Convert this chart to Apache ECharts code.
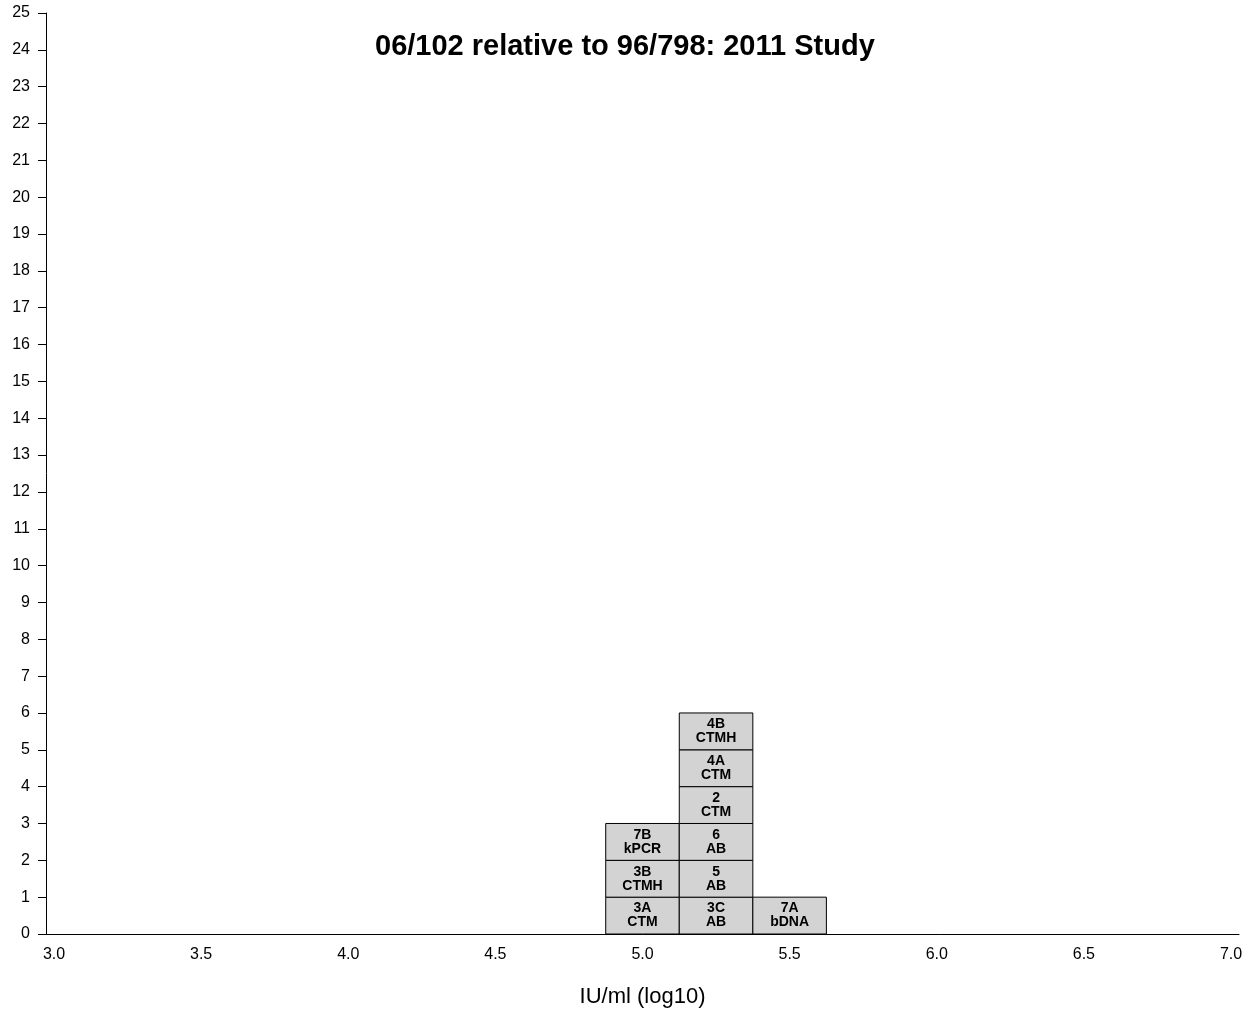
<!DOCTYPE html>
<html>
<head>
<meta charset="utf-8">
<script src="https://cdn.jsdelivr.net/npm/echarts@6/dist/echarts.min.js"></script>
<style>
  html, body { margin: 0; padding: 0; background: #fff; }
  #chart { width: 1257px; height: 1013px; }
</style>
</head>
<body>
<div id="chart"></div>
<script>
// Histogram of laboratory estimates (log10 IU/ml), one box per laboratory result
const binCentres = [5.0, 5.0, 5.0, 5.25, 5.25, 5.25, 5.25, 5.25, 5.25, 5.5];
const labCodes   = ['3A', '3B', '7B', '3C', '5', '6', '2', '4A', '4B', '7A'];
const methods    = ['CTM', 'CTMH', 'kPCR', 'AB', 'AB', 'AB', 'CTM', 'CTM', 'CTMH', 'bDNA'];
const binWidth = 0.25;
const xTicks = [3.0, 3.5, 4.0, 4.5, 5.0, 5.5, 6.0, 6.5, 7.0];
const yMax = 25;

// stack boxes within each bin, bottom to top
const seen = {};
const boxes = binCentres.map(function (c, i) {
  const level = seen[c] || 0;
  seen[c] = level + 1;
  return [c, level, labCodes[i], methods[i]];
});

const FONT = 'Liberation Sans, Arial, Helvetica, sans-serif';
const chart = echarts.init(document.getElementById('chart'));

chart.setOption({
  animation: false,
  backgroundColor: '#ffffff',
  title: {
    text: '06/102 relative to 96/798: 2011 Study',
    left: 370,
    top: 27,
    textStyle: { fontFamily: FONT, fontWeight: 'bold', fontSize: 29, color: '#000' }
  },
  grid: { left: 46, right: 18, top: 13, bottom: 74 },
  xAxis: {
    type: 'value',
    min: 2.9728,
    max: 7.0272,
    name: 'IU/ml (log10)',
    nameLocation: 'middle',
    nameGap: 52,
    nameTextStyle: { fontFamily: FONT, fontSize: 22, color: '#000' },
    axisLine: { show: true, lineStyle: { color: '#000', width: 1 } },
    axisTick: { show: false },
    splitLine: { show: false },
    axisLabel: {
      customValues: xTicks,
      formatter: function (v) { return v.toFixed(1); },
      fontFamily: FONT, fontSize: 16, color: '#000', margin: 13
    }
  },
  yAxis: {
    type: 'value',
    min: 0,
    max: yMax,
    interval: 1,
    axisLine: { show: true, lineStyle: { color: '#000', width: 1 } },
    axisTick: { show: true, inside: false, length: 8, lineStyle: { color: '#000' } },
    splitLine: { show: false },
    axisLabel: { fontFamily: FONT, fontSize: 16, color: '#000', margin: 16 }
  },
  series: [{
    type: 'custom',
    data: boxes,
    encode: { x: 0, y: 1 },
    renderItem: function (params, api) {
      const c = api.value(0);
      const lvl = api.value(1);
      const p0 = api.coord([c - binWidth / 2, lvl + 1]);
      const p1 = api.coord([c + binWidth / 2, lvl]);
      return {
        type: 'group',
        children: [{
          type: 'rect',
          shape: { x: p0[0], y: p0[1], width: p1[0] - p0[0], height: p1[1] - p0[1] },
          style: { fill: '#d3d3d3', stroke: '#000', lineWidth: 1 }
        }, {
          type: 'text',
          style: {
            x: (p0[0] + p1[0]) / 2,
            y: (p0[1] + p1[1]) / 2,
            text: api.value(2) + '\n' + api.value(3),
            align: 'center',
            verticalAlign: 'middle',
            fontFamily: FONT,
            fontWeight: 'bold',
            fontSize: 14,
            lineHeight: 14,
            fill: '#000'
          }
        }]
      };
    }
  }]
});
</script>
</body>
</html>
